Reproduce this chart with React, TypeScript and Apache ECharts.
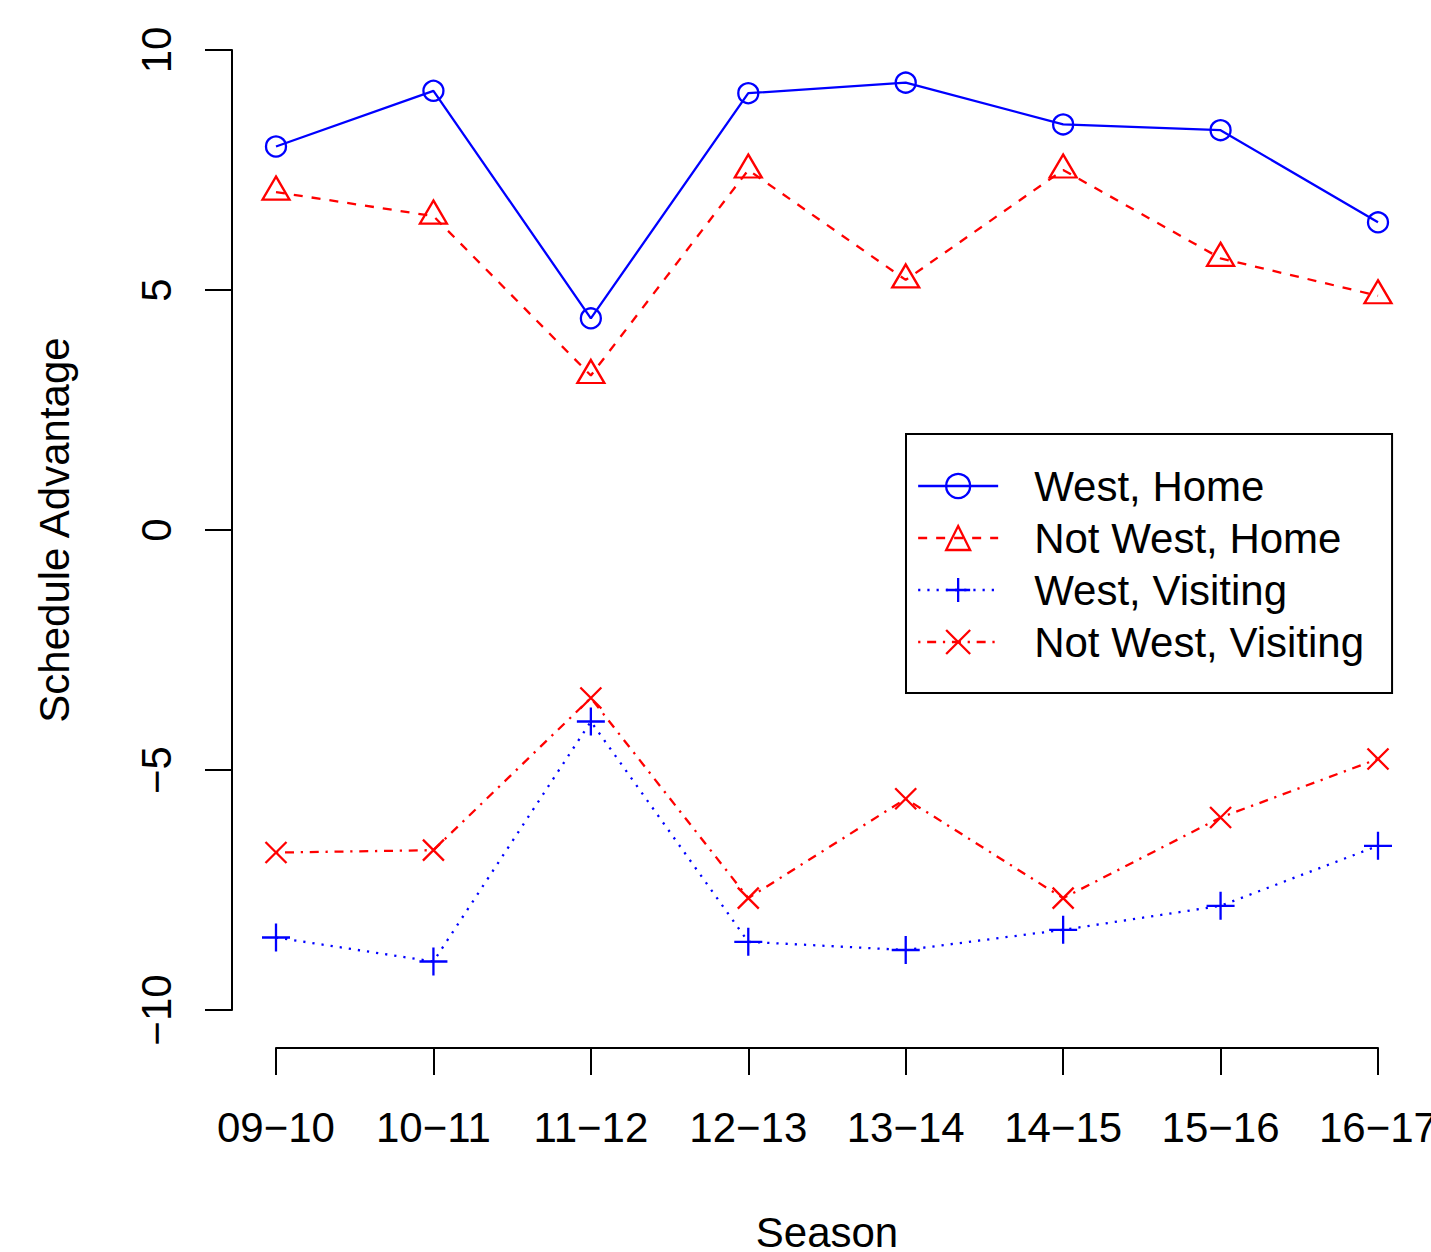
import React, { useEffect, useRef } from 'react';
import * as echarts from 'echarts';

const seasons = ['09−10', '10−11', '11−12', '12−13', '13−14', '14−15', '15−16', '16−17'];
const westHome = [7.99, 9.15, 4.41, 9.1, 9.32, 8.45, 8.33, 6.41];
const notWestHome = [7.04, 6.54, 3.22, 7.5, 5.21, 7.5, 5.66, 4.88];
const westVisiting = [-8.49, -8.99, -3.99, -8.58, -8.75, -8.33, -7.83, -6.58];
const notWestVisiting = [-6.72, -6.67, -3.5, -7.67, -5.6, -7.67, -5.99, -4.77];
const seriesNames = ['West, Home', 'Not West, Home', 'West, Visiting', 'Not West, Visiting'];

const BLUE = '#0000ff';
const RED = '#ff0000';
const FONT = '"Liberation Sans", Arial, Helvetica, sans-serif';
const PLUS = 'path://M5 0L5 10M0 5L10 5';
const CROSS = 'path://M0 0L10 10M10 0L0 10';

export default function App() {
  const ref = useRef<HTMLDivElement>(null);
  useEffect(() => {
    document.body.style.margin = '0';
    const chart = echarts.init(ref.current!, null, { renderer: 'svg' });
    const mk = (name: string, data: number[], color: string, symbol: string, size: any, dash: any, offset: number[] = [0, 0]) => ({
      name,
      type: 'line',
      data,
      symbol,
      symbolSize: size,
      symbolOffset: offset,
      showSymbol: true,
      clip: false,
      itemStyle: { color: 'transparent', borderColor: color, borderWidth: 2.3 },
      lineStyle: { color, width: 2.3, type: dash },
      emphasis: { disabled: true },
    });
    chart.setOption({
      animation: false,
      textStyle: { fontFamily: FONT },
      grid: { left: 276, right: 53, top: 50, bottom: 242, containLabel: false, outerBoundsMode: 'none' },
      xAxis: {
        type: 'category',
        data: seasons,
        boundaryGap: false,
        offset: 38,
        axisLine: { show: true, onZero: false, lineStyle: { color: '#000', width: 2 } },
        axisTick: { show: true, length: 27, alignWithLabel: true, lineStyle: { color: '#000', width: 2 } },
        axisLabel: { margin: 58, fontSize: 42, color: '#000', fontFamily: FONT, interval: 0 },
        splitLine: { show: false },
        name: 'Season',
        nameLocation: 'middle',
        nameGap: 163,
        nameTextStyle: { fontSize: 42, color: '#000', fontFamily: FONT },
      },
      yAxis: {
        type: 'value',
        min: -10,
        max: 10,
        interval: 5,
        offset: 44,
        axisLine: { show: true, onZero: false, lineStyle: { color: '#000', width: 2 } },
        axisTick: { show: true, length: 27, lineStyle: { color: '#000', width: 2 } },
        axisLabel: {
          rotate: 90,
          margin: 55,
          fontSize: 42,
          color: '#000',
          fontFamily: FONT,
          formatter: (v: number) => String(v).replace('-', '−'),
        },
        splitLine: { show: false },
        name: 'Schedule Advantage',
        nameLocation: 'middle',
        nameGap: 157,
        nameTextStyle: { fontSize: 42, color: '#000', fontFamily: FONT },
      },
      legend: {
        orient: 'vertical',
        left: 906,
        top: 434,
        padding: [31, 28, 30, 11],
        itemWidth: 80,
        itemHeight: 30,
        itemGap: 10,
        borderColor: '#000',
        borderWidth: 2,
        selectedMode: false,
        itemStyle: { borderWidth: 2.3 },
        lineStyle: { width: 2.3 },
        textStyle: { fontSize: 42, color: '#000', fontFamily: FONT, padding: [0, 0, 0, 31] },
        data: seriesNames,
      },
      series: [
        mk(seriesNames[0], westHome, BLUE, 'circle', 20, 'solid'),
        mk(seriesNames[1], notWestHome, RED, 'triangle', [27, 23], [9, 9], [0, -4]),
        mk(seriesNames[2], westVisiting, BLUE, PLUS, 28, [2.2, 7]),
        mk(seriesNames[3], notWestVisiting, RED, CROSS, 21, [2.25, 6.75, 9, 6.75]),
      ],
    });
    return () => chart.dispose();
  }, []);
  return <div ref={ref} style={{ position: 'fixed', left: 0, top: 0, width: 1431, height: 1252, background: '#fff' }} />;
}
